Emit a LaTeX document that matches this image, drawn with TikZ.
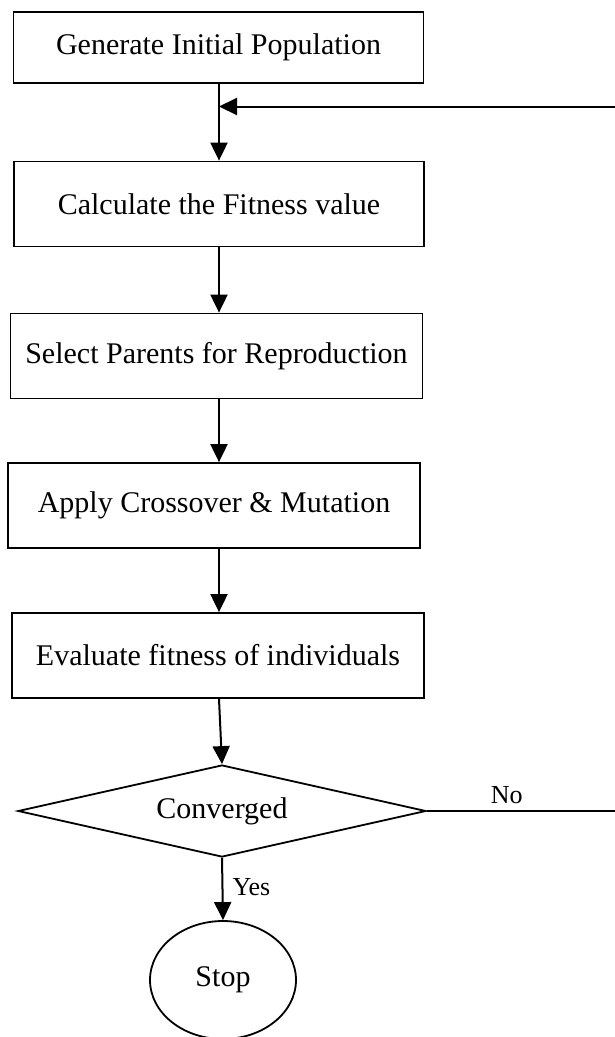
\documentclass[tikz,border=0pt]{standalone}
\usepackage{fontspec}
\setmainfont{Liberation Serif}
\usetikzlibrary{shapes.geometric,arrows.meta}
\begin{document}
\begin{tikzpicture}[x=1pt,y=-1pt,
  txt/.style={font=\fontsize{30}{36}\selectfont},
  procbox/.style={draw,line width=1.8pt,minimum width=410pt,minimum height=85pt,inner sep=0pt,txt},
  flow/.style={line width=2pt,-{Triangle[length=18pt,width=17pt]}},
  plain/.style={line width=2pt},
  lbl/.style={font=\fontsize{26}{30}\selectfont,inner sep=0pt}]
\useasboundingbox (0,0) rectangle (615,1037);
\node[procbox,minimum height=71pt] (b1) at (218.5,47.5) {Generate Initial Population};
\node[procbox] (b2) at (219,204) {Calculate the Fitness value};
\node[procbox,minimum width=412pt] (b3) at (216.5,356) {Select Parents for Reproduction};
\node[procbox,minimum width=412pt] (b4) at (214,505.5) {Apply Crossover \& Mutation};
\node[procbox,minimum width=412pt] (b5) at (218,655.5) {Evaluate fitness of individuals};
\node[draw,diamond,line width=1.8pt,minimum width=408pt,minimum height=92pt,aspect=4.43,inner sep=0pt,txt] (d) at (222,811) {Converged};
\node[draw,ellipse,line width=1.8pt,minimum width=146pt,minimum height=118pt,inner sep=0pt,txt] (stop) at (223,980) {Stop};
\coordinate (xa) at (219,0);
\coordinate (xb) at (222,0);
\coordinate (j) at (219,106.5);
\coordinate (r1) at (617,106.5);
\coordinate (r2) at (617,811);
\draw[plain] (b1.south -| xa) -- (j);
\draw[flow] (j) -- (b2.north -| xa);
\draw[flow] (r1) -- (j);
\draw[flow] (b2.south -| xa) -- (b3.north -| xa);
\draw[flow] (b3.south -| xa) -- (b4.north -| xa);
\draw[flow] (b4.south -| xa) -- (b5.north -| xa);
\draw[flow] (b5.south -| xa) -- (d.north);
\draw[flow] (d.south) -- node[lbl,anchor=west,xshift=9pt,yshift=2pt]{Yes} (stop.north);
\draw[plain] (d.east) -- node[lbl,above,pos=0.42,yshift=6pt]{No} (r2);
\end{tikzpicture}
\end{document}
